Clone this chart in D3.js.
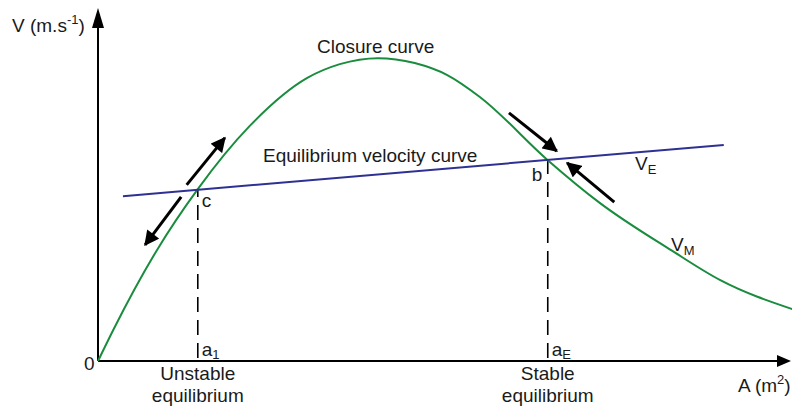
<!DOCTYPE html>
<html>
<head>
<meta charset="utf-8">
<script src="https://cdn.jsdelivr.net/npm/d3@7"></script>
<style>
  html, body { margin: 0; padding: 0; background: #fff; }
  svg { display: block; font-family: "Liberation Sans", Arial, sans-serif; }
  text { fill: #1a1a1a; }
</style>
</head>
<body>
<svg id="chart" width="792" height="409"></svg>
<script>
// Closure curve V_M(A): cross-sectional area A vs. maximum velocity
const closureA = [0, 0.22, 0.85, 1.44, 2.19, 3.02, 3.49, 4.04, 4.57, 5.04, 5.51, 6.49, 7.24, 8.27, 8.98, 10.05];
const closureV = [0, 0.88, 3.14, 4.87, 6.66, 8.02, 8.41, 8.58, 8.44, 8.10, 7.48, 5.69, 4.48, 3.14, 2.29, 1.45];

// Equilibrium velocity curve V_E(A): straight line between its end points
const equilA = [0.36, 9.03];
const equilV = [4.67, 6.12];

// Equilibrium areas on the A axis
const eqNames = ["a1", "aE"];
const eqAreas = [1.44, 6.49];
const eqPointLabels = ["c", "b"];
const eqCaptions = [["Unstable", "equilibrium"], ["Stable", "equilibrium"]];

// Stability arrows: [A start, V start, A end, V end]
const arrows = [
  [1.28, 4.99, 1.83, 6.32],
  [1.20, 4.65, 0.68, 3.29],
  [5.93, 7.03, 6.62, 5.95],
  [7.45, 4.50, 6.77, 5.61]
];

const svg = d3.select("#chart");
const x = d3.scaleLinear().domain([0, 10]).range([98, 791]);
const y = d3.scaleLinear().domain([0, 10]).range([361, 8]);

const closure = closureA.map((a, i) => [a, closureV[i]]);
const equil = equilA.map((a, i) => [a, equilV[i]]);
const vE = a => equilV[0] + (a - equilA[0]) * (equilV[1] - equilV[0]) / (equilA[1] - equilA[0]);

// Arrowhead marker for the stability arrows
svg.append("defs").append("marker")
  .attr("id", "head")
  .attr("viewBox", "0 0 10 10")
  .attr("refX", 9).attr("refY", 5)
  .attr("markerUnits", "userSpaceOnUse")
  .attr("markerWidth", 16).attr("markerHeight", 15)
  .attr("orient", "auto")
  .append("path").attr("d", "M0,0 L10,5 L0,10 Z").attr("fill", "#000");

// Axes with solid arrowheads
const x0 = x(0), y0 = y(0);
svg.append("line").attr("x1", x0).attr("y1", y0).attr("x2", x(10) - 10).attr("y2", y0)
  .attr("stroke", "#000").attr("stroke-width", 2);
svg.append("path")
  .attr("d", `M${x(10)},${y0} L${x(10) - 14},${y0 - 6} L${x(10) - 14},${y0 + 6} Z`)
  .attr("fill", "#000");
svg.append("line").attr("x1", x0).attr("y1", y0).attr("x2", x0).attr("y2", y(10) + 12)
  .attr("stroke", "#000").attr("stroke-width", 2);
svg.append("path")
  .attr("d", `M${x0},${y(10)} L${x0 - 6},${y(10) + 20} L${x0 + 6},${y(10) + 20} Z`)
  .attr("fill", "#000");

// Dashed drop lines from the equilibrium points
eqAreas.forEach(a => {
  svg.append("line")
    .attr("x1", x(a)).attr("y1", y(0) - 3)
    .attr("x2", x(a)).attr("y2", y(vE(a)))
    .attr("stroke", "#000").attr("stroke-width", 1.6)
    .attr("stroke-dasharray", "15,8");
});

// Curves
svg.append("path")
  .datum(closure)
  .attr("fill", "none")
  .attr("stroke", "#1a8c3e")
  .attr("stroke-width", 2)
  .attr("d", d3.line().x(d => x(d[0])).y(d => y(d[1])).curve(d3.curveMonotoneX));

svg.append("path")
  .datum(equil)
  .attr("fill", "none")
  .attr("stroke", "#2e3192")
  .attr("stroke-width", 2)
  .attr("d", d3.line().x(d => x(d[0])).y(d => y(d[1])));

// Stability arrows
arrows.forEach(d => {
  svg.append("line")
    .attr("x1", x(d[0])).attr("y1", y(d[1]))
    .attr("x2", x(d[2])).attr("y2", y(d[3]))
    .attr("stroke", "#000").attr("stroke-width", 3)
    .attr("marker-end", "url(#head)");
});

// Labels
const fs = 19, fsSub = 13;
const label = (tx, ty, parts) => {
  const t = svg.append("text").attr("x", tx).attr("y", ty).attr("font-size", fs);
  parts.forEach(p => {
    const s = t.append("tspan").text(p.t);
    if (p.sub) s.attr("font-size", fsSub).attr("dy", p.dy);
    else if (p.dy) s.attr("dy", p.dy);
  });
  return t;
};

label(12, 32, [{t: "V (m.s"}, {t: "-1", sub: true, dy: -8}, {t: ")", dy: 8}]);
label(84, 370, [{t: "0"}]);
label(738, 392, [{t: "A (m"}, {t: "2", sub: true, dy: -8}, {t: ")", dy: 8}]);
label(317, 53, [{t: "Closure curve"}]);
label(263, 162, [{t: "Equilibrium velocity curve"}]);
label(635, 170, [{t: "V"}, {t: "E", sub: true, dy: 4}]);
label(671, 251, [{t: "V"}, {t: "M", sub: true, dy: 4}]);

eqAreas.forEach((a, i) => {
  const sub = eqNames[i].slice(1);
  label(x(a) + 4, 356, [{t: "a"}, {t: sub, sub: true, dy: 3}]);
  const px = eqPointLabels[i];
  if (px === "c") label(x(a) + 4, y(vE(a)) + 17, [{t: px}]);
  else label(x(a) - 16, y(vE(a)) + 21, [{t: px}]);
  eqCaptions[i].forEach((line, k) => {
    svg.append("text")
      .attr("x", x(a)).attr("y", 380 + k * 22)
      .attr("text-anchor", "middle").attr("font-size", fs)
      .text(line);
  });
});
</script>
</body>
</html>
